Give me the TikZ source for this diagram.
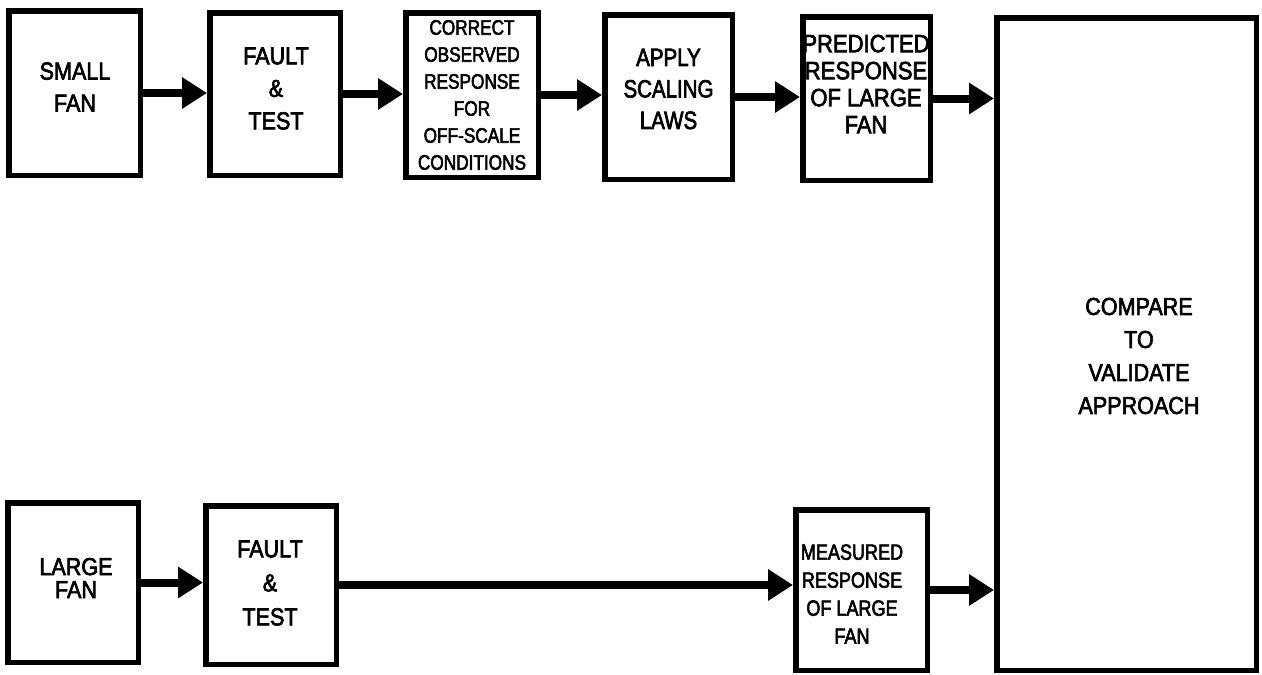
\documentclass[tikz,border=0pt]{standalone}
\usepackage{fontspec}
\setmainfont{Liberation Sans}
\newfontfamily\widesans[FakeStretch=0.88,FakeBold=2.6]{Liberation Sans}
\newfontfamily\narrowsans[FakeStretch=0.82,FakeBold=2.6]{Liberation Sans}
\usetikzlibrary{arrows.meta}
\begin{document}
\begin{tikzpicture}[x=1pt,y=-1pt,
  box/.style n args={2}{draw, line width=5.5pt, minimum width=#1, minimum height=#2, inner sep=0pt},
  txt/.style={align=center, inner sep=0pt},
  arr/.style={line width=8pt, -{Triangle[length=25pt,width=30pt]}}
]
\useasboundingbox (0,0) rectangle (1262,675);

% upper chain: small fan
\node[box={131.5pt}{164.5pt}] (sfan)   at (74.5,93)   {};
\node[box={130.5pt}{162.5pt}] (sfault) at (275,94)    {};
\node[box={132.5pt}{164.5pt}] (corr)   at (472,95)    {};
\node[box={127.5pt}{164.5pt}] (scale)  at (668.5,97)  {};
\node[box={127.5pt}{163.5pt}] (pred)   at (866.5,98.5){};
% comparison block
\node[box={259.5pt}{652.5pt}] (cmp)    at (1126.5,344){};
% lower chain: large fan
\node[box={130.5pt}{159.5pt}] (lfan)   at (73,582.5)  {};
\node[box={130.5pt}{158.5pt}] (lfault) at (271,585)   {};
\node[box={131.5pt}{160.5pt}] (meas)   at (861.5,590) {};

% labels
\node[txt, font=\widesans\fontsize{24.5}{32}\selectfont] (sfant) at (75,87) {SMALL\\FAN};
\node[txt, font=\widesans\fontsize{24.5}{32.5}\selectfont] (sfaultt) at (276,88.5) {FAULT\\\&\\TEST};
\node[txt, font=\narrowsans\fontsize{21}{27}\selectfont] (corrt) at (472,95) {CORRECT\\OBSERVED\\RESPONSE\\FOR\\OFF-SCALE\\CONDITIONS};
\node[txt, font=\narrowsans\fontsize{25}{31.5}\selectfont] (scalet) at (668.5,89) {APPLY\\SCALING\\LAWS};
\node[txt, font=\widesans\fontsize{25}{27}\selectfont] (predt) at (866,84) {PREDICTED\\RESPONSE\\OF LARGE\\FAN};
\node[txt, font=\widesans\fontsize{24.5}{33}\selectfont] (cmpt) at (1139,356) {COMPARE\\TO\\VALIDATE\\APPROACH};
\node[txt, font=\widesans\fontsize{24.5}{23}\selectfont] (lfant) at (76,578) {LARGE\\FAN};
\node[txt, font=\widesans\fontsize{24.5}{34}\selectfont] (lfaultt) at (270,583) {FAULT\\\&\\TEST};
\node[txt, font=\narrowsans\fontsize{22}{28}\selectfont] (meast) at (852,594) {MEASURED\\RESPONSE\\OF LARGE\\FAN};

% flow arrows
\draw[arr] (sfan.east)   -- (sfan.east -| sfault.west);
\draw[arr] (sfault.east) -- (sfault.east -| corr.west);
\draw[arr] (corr.east)   -- (corr.east -| scale.west);
\draw[arr] (scale.east)  -- (scale.east -| pred.west);
\draw[arr] (pred.east)   -- (pred.east -| cmp.west);
\draw[arr] (lfan.east)   -- (lfan.east -| lfault.west);
\draw[arr] (lfault.east) -- (lfault.east -| meas.west);
\draw[arr] (meas.east)   -- (meas.east -| cmp.west);
\end{tikzpicture}
\end{document}
